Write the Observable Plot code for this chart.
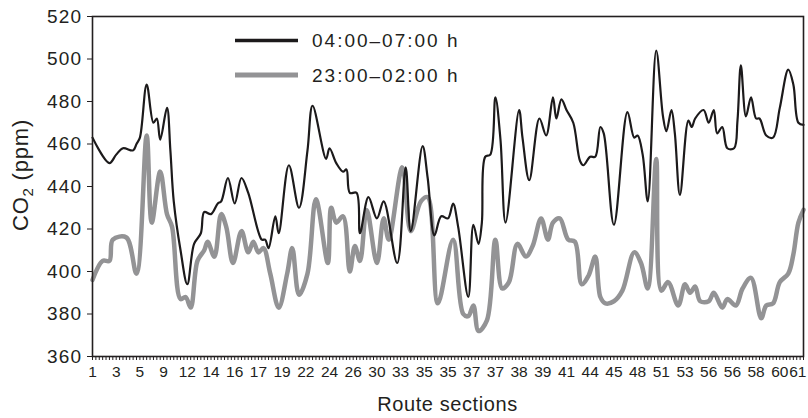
<!DOCTYPE html>
<html><head><meta charset="utf-8">
<script src="https://cdn.jsdelivr.net/npm/d3@7"></script>
<script src="https://cdn.jsdelivr.net/npm/@observablehq/plot@0.6"></script>
<style>body{margin:0;background:#fff}</style>
</head><body><div id="chart"></div>
<script>
// Tick labels along the x axis (every 7th sample point)
const tickLabels = ["1","3","5","9","12","14","16","17","19","22","24","26","30","33","35","35","37","37","38","39","41","44","45","48","51","53","56","56","58","60","61"];
const seriesNames = ["04:00–07:00 h", "23:00–02:00 h"];
const yTicks = [360, 380, 400, 420, 440, 460, 480, 500, 520];

// 04:00–07:00 h series: sample position, CO2 (ppm)
const earlyPos = [0,5,7,9,12,13,14,16,18,19,20,22,23,24,26,28,30,32,33,35,37,38,40,42,44,46,50,51,52,54,55,58,61,63.5,65,69,70,72,74,75,76,78,79,81.5,84,86,90,92.5,94,97.5,99,101,103,105,106.5,108,111,112.5,114,115,116,117.5,119,120.5,122,126,127,129,132,134,136,137,138.5,140,142,144,145,147,148.5,150,151,154,158,160,161,162.5,164,166.5,168.5,169.5,171,172,173.5,176,177,178,180.5,182,183.5,184.5,186,187.5,189.5,190.5,191.5,193,194.5,196,197,199,201,203,205.5,207,208.5,210];
const earlyCO2 = [463,451,455,458,457,460,463,488,470,472,462,477,457,433,410,394,413,418,428,427,432,433,444,432,444,437,415,415,411,426,418,450,430,457,478,453,458,451,447,448,437,437,418,435,425,433,404,449,419,459,444,417,426,425,432,421,388,422,413,423,454,455,482,462,423,476,463,443,472,464,482,472,481,476,470,452,450,454,454,468,465,422,475,463,464,455,433,504,473,466,476,465,436,471,468,472,476,470,476,465,468,458,458,471,497,473,482,472,472,464,463,477,495,488,470,469];

// 23:00–02:00 h series
const latePos = [0,3,5,6,10,13,16,17.5,20,22,23.5,26,27.5,29,31,33,34,36,38,39.5,41.5,44,46,47.5,49,50.5,52.5,55,57.5,59,61,63.5,66,69.5,70.5,72,74,76,77.5,79,81,84,86,87.5,91.5,94,97,99,102,106.5,109.5,111,112.5,114,116.5,119,121,123,125.5,128,130,132.5,134.5,136,138,140.5,142.5,144.5,146.5,148.5,150,151.5,154,156.5,160,162,164,166.5,168,170,173,175,176.5,178,179.5,182,183.5,186,187.5,190,192,194.5,197.5,199,201,203,205.5,207,208.5,210];
const lateCO2 = [396,405,405,415,416,399,464,423,447,427,421,387,388,383,405,410,414,407,427,421,404,419,409,414,409,411,399,383,399,411,389,399,434,404,430,423,426,400,412,405,429,404,425,415,449,419,433,435,385,415,380,379,384,372,377,415,392,395,413,407,412,425,415,423,425,415,414,394,398,407,388,385,386,391,409,404,392,453,391,395,384,394,390,393,386,386,390,383,387,384,392,397,378,384,385,395,399,408,423,429];

const early = earlyPos.map((x, i) => ({x, y: earlyCO2[i]}));
const late = latePos.map((x, i) => ({x, y: lateCO2[i]}));
const nPoints = (tickLabels.length - 1) * 7;

const W = 808, H = 418;
const mL = 92, mR = 5, mT = 16, mB = 62;
const font = "'Liberation Sans', Arial, Helvetica, sans-serif";
const ink = "#231f20";

const plot = Plot.plot({
  width: W, height: H,
  marginLeft: mL, marginRight: mR, marginTop: mT, marginBottom: mB,
  style: {fontFamily: font, color: ink, background: "#fff"},
  x: {domain: [0, nPoints]},
  y: {domain: [360, 520]},
  marks: [
    Plot.line(late, {x: "x", y: "y", stroke: "#939395", strokeWidth: 4.5, curve: "catmull-rom"}),
    Plot.line(early, {x: "x", y: "y", stroke: "#1c1a1b", strokeWidth: 2.2, curve: "catmull-rom"}),
    Plot.frame({stroke: ink, strokeWidth: 1.6}),
    Plot.axisY({ticks: yTicks, tickSize: 5, tickPadding: 5, label: null, fontSize: 19, tickFormat: d => String(d)}),
    Plot.axisX({ticks: d3.range(0, nPoints + 1), tickSize: 4, tickPadding: 5, label: null, fontSize: 15.5,
      tickFormat: d => (d % 7 === 0 && d < nPoints) ? tickLabels[d / 7] : ""}),
    Plot.axisX({ticks: [nPoints], tickSize: 0, tickPadding: 9, label: null, fontSize: 15.5, dx: 3, textAnchor: "end",
      tickFormat: d => tickLabels[d / 7]})
  ]
});

document.getElementById("chart").appendChild(plot);

const svg = d3.select(plot);
svg.selectAll("[aria-label='y-axis tick label']").style("letter-spacing", "1.3px");

// Y axis label with subscript
const yl = svg.append("text")
  .attr("transform", `translate(28,175) rotate(-90)`)
  .attr("text-anchor", "middle")
  .attr("fill", ink)
  .style("font-family", font).style("font-size", "22px").style("letter-spacing", "0.8px");
yl.append("tspan").text("CO");
yl.append("tspan").text("2").attr("font-size", "15px").attr("dy", "5");
yl.append("tspan").text(" (ppm)").attr("dy", "-5");

// X axis label
svg.append("text")
  .attr("x", (mL + W - mR) / 2).attr("y", 411)
  .attr("text-anchor", "middle").attr("fill", ink)
  .style("font-family", font).style("font-size", "20px").style("letter-spacing", "0.6px")
  .text("Route sections");

// Legend
const legend = [
  {name: seriesNames[0], color: "#1c1a1b", w: 3.5, y: 40.5},
  {name: seriesNames[1], color: "#939395", w: 5, y: 75}
];
legend.forEach(l => {
  svg.append("line").attr("x1", 235).attr("x2", 298).attr("y1", l.y).attr("y2", l.y)
    .attr("stroke", l.color).attr("stroke-width", l.w);
  svg.append("text").attr("x", 312).attr("y", l.y).attr("dy", "0.36em")
    .attr("text-anchor", "start")
    .attr("fill", ink).style("font-family", font).style("font-size", "19px").style("letter-spacing", "2px")
    .text(l.name);
});
</script>
</body></html>
